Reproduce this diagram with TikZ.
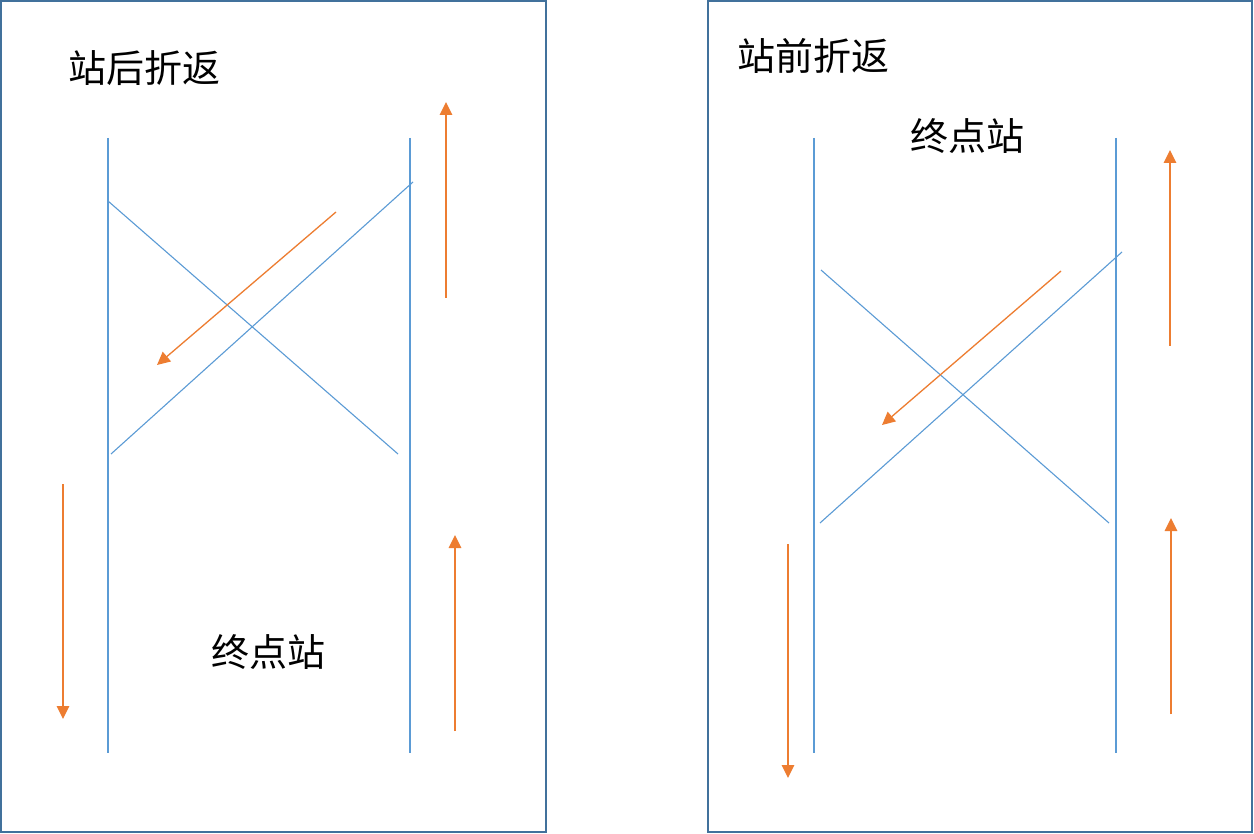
\documentclass[tikz,border=0pt]{standalone}
\usepackage{fontspec}
\newfontfamily\cjk{Noto Sans CJK SC}
\usetikzlibrary{arrows.meta}
\definecolor{framec}{HTML}{41719C}
\definecolor{trackc}{HTML}{5B9BD5}
\definecolor{arrowc}{HTML}{ED7D31}
\tikzset{
  framebox/.style={draw=framec, line width=2pt},
  track/.style={draw=trackc, line width=1.1pt},
  dirarrow/.style={draw=arrowc, line width=1.3pt, -{Triangle[length=13pt,width=12.5pt]}},
  label/.style={font=\cjk\fontsize{38}{42}\selectfont, inner sep=0pt, text=black}
}
\begin{document}
\begin{tikzpicture}[x=1pt,y=-1pt]
\useasboundingbox (0,0) rectangle (1254,834);
\fill[white] (0,0) rectangle (1254,834);
% frames
\draw[framebox] (1,1) rectangle (546,832);
\draw[framebox] (708,1) rectangle (1252,832);

% ---- left panel ----
\node[label] (tA) at (144,68) {站后折返};
\node[label] (sA) at (268,652) {终点站};
\coordinate (aL1) at (108,138); \coordinate (aL2) at (108,753);
\coordinate (aR1) at (410,138); \coordinate (aR2) at (410,753);
\draw[track] (aL1) -- (aL2);
\draw[track] (aR1) -- (aR2);
\coordinate (aD1s) at (108,201); \coordinate (aD1e) at (398,454);
\coordinate (aD2s) at (413,182); \coordinate (aD2e) at (111,454);
\draw[track] (aD1s) -- (aD1e);
\draw[track] (aD2s) -- (aD2e);
\coordinate (aOs) at (336,212); \coordinate (aOe) at (157,365);
\draw[dirarrow] (aOs) -- (aOe);
\coordinate (aU1s) at (446,298); \coordinate (aU1e) at (446,102);
\draw[dirarrow] (aU1s) -- (aU1e);
\coordinate (aDns) at (63,484); \coordinate (aDne) at (63,719);
\draw[dirarrow] (aDns) -- (aDne);
\coordinate (aU2s) at (455,731); \coordinate (aU2e) at (455,535);
\draw[dirarrow] (aU2s) -- (aU2e);

% ---- right panel ----
\node[label] (tB) at (813,56) {站前折返};
\node[label] (sB) at (967,136) {终点站};
\coordinate (bL1) at (814,138); \coordinate (bL2) at (814,753);
\coordinate (bR1) at (1116,138); \coordinate (bR2) at (1116,753);
\draw[track] (bL1) -- (bL2);
\draw[track] (bR1) -- (bR2);
\coordinate (bD1s) at (821,270); \coordinate (bD1e) at (1109,523);
\coordinate (bD2s) at (1122,252); \coordinate (bD2e) at (820,523);
\draw[track] (bD1s) -- (bD1e);
\draw[track] (bD2s) -- (bD2e);
\coordinate (bOs) at (1061,271); \coordinate (bOe) at (882,425);
\draw[dirarrow] (bOs) -- (bOe);
\coordinate (bU1s) at (1170,346); \coordinate (bU1e) at (1170,150);
\draw[dirarrow] (bU1s) -- (bU1e);
\coordinate (bDns) at (788,544); \coordinate (bDne) at (788,778);
\draw[dirarrow] (bDns) -- (bDne);
\coordinate (bU2s) at (1171,714); \coordinate (bU2e) at (1171,518);
\draw[dirarrow] (bU2s) -- (bU2e);
\end{tikzpicture}
\end{document}
